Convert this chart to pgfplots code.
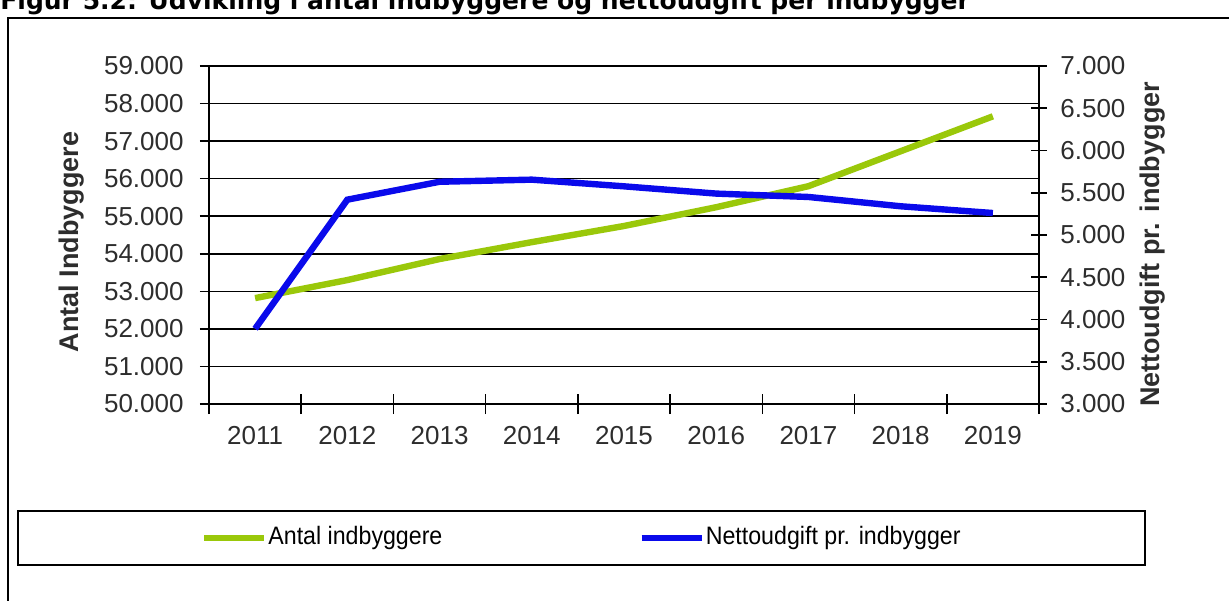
\documentclass[border=0pt]{standalone}
\usepackage{fontspec}
\setmainfont{Liberation Sans}
\newfontfamily\titlefont{DejaVu Sans}
\newfontfamily\legfont{Liberation Sans}[FakeStretch=0.92]
\usepackage{pgfplots}
\usepackage{pgfplotstable}
\pgfplotsset{compat=1.18}
\definecolor{ggreen}{RGB}{154,200,10}
\definecolor{bblue}{RGB}{10,10,235}
\definecolor{ticktxt}{RGB}{45,45,45}

\pgfplotstableread{
x year pop
1 2011 52820
2 2012 53300
3 2013 53860
4 2014 54310
5 2015 54740
6 2016 55240
7 2017 55800
8 2018 56730
9 2019 57660
}\poptable
\pgfplotstableread{
x year net
1 2011 3890
2 2012 5418
3 2013 5630
4 2014 5655
5 2015 5576
6 2016 5490
7 2017 5450
8 2018 5340
9 2019 5260
}\nettable

\begin{document}
\begin{tikzpicture}
% title (cut off at top, as in the source)
\node[anchor=base west, inner sep=0pt, font=\titlefont\bfseries\fontsize{12.5bp}{14bp}\selectfont] at (0bp,295.5bp)
  {Figur 5.2: Udvikling i antal indbyggere og nettoudgift per indbygger};
% outer frame
\draw[line width=1bp] (4bp,-20bp) -- (4bp,291.5bp) -- (660bp,291.5bp);

\begin{axis}[
  at={(104.5bp,98.5bp)}, anchor=south west,
  scale only axis, width=415bp, height=169bp,
  xmin=0.5, xmax=9.5, ymin=50000, ymax=59000,
  scaled y ticks=false,
  axis line style={black, line width=0.8bp},
  xtick={1,...,9},
  xticklabels={2011,2012,2013,2014,2015,2016,2017,2018,2019},
  major x tick style={draw=none},
  minor xtick={0.5,1.5,...,9.5},
  minor x tick style={black, line width=0.8bp},
  minor tick length=10bp,
  xtick align=center,
  xtick pos=bottom,
  ytick={50000,51000,...,59000},
  yticklabels={50.000,51.000,52.000,53.000,54.000,55.000,56.000,57.000,58.000,59.000},
  ytick pos=left,
  ytick align=outside,
  major tick length=4.5bp,
  major y tick style={black, line width=0.8bp},
  ymajorgrids=true,
  major grid style={black, line width=0.8bp},
  ticklabel style={font=\fontsize{13bp}{15bp}\selectfont, text=ticktxt},
  yticklabel style={anchor=east, inner sep=0pt, xshift=-8bp},
  xticklabel style={anchor=north, inner sep=0pt, yshift=-8.5bp},
  every axis y label/.style={at={(axis description cs:0,0.5)}, xshift=-68.5bp, yshift=-3.5bp, rotate=90, anchor=center,
     font=\fontsize{13.5bp}{16bp}\selectfont\bfseries, text=ticktxt},
  ylabel={Antal Indbyggere},
  legend columns=2,
  legend image code/.code={\draw[#1] (0bp,0bp) -- (30bp,0bp);},
  legend style={at={(axis description cs:-0.2313,-0.313)}, anchor=north west,
     draw=black, line width=1bp, inner xsep=91.5bp, inner ysep=7.7bp,
     font=\legfont\fontsize{12.6bp}{14bp}\selectfont,
     nodes={inner xsep=0.5bp, inner ysep=0pt, text height=9bp, text depth=2.6bp},
     /tikz/every even column/.append style={column sep=97.5bp}},
]
\addplot[ggreen, line width=3.2bp] table[x=x, y=pop] {\poptable};
\addlegendentry{Antal indbyggere}
\addlegendimage{bblue, line width=3.2bp}
\addlegendentry{Nettoudgift pr. indbygger}
\end{axis}

\begin{axis}[
  at={(104.5bp,98.5bp)}, anchor=south west,
  scale only axis, width=415bp, height=169bp,
  xmin=0.5, xmax=9.5, ymin=3000, ymax=7000,
  scaled y ticks=false,
  axis line style={black, line width=0.8bp},
  xtick=\empty,
  ytick={3000,3500,...,7000},
  yticklabels={3.000,3.500,4.000,4.500,5.000,5.500,6.000,6.500,7.000},
  ytick pos=right,
  ytick align=center,
  major tick length=8bp,
  major y tick style={black, line width=0.8bp},
  ticklabel style={font=\fontsize{13bp}{15bp}\selectfont, text=ticktxt},
  yticklabel style={anchor=west, inner sep=0pt, xshift=6.5bp},
  every axis y label/.style={at={(axis description cs:1,0.5)}, xshift=57bp, yshift=-4.75bp, rotate=90, anchor=center,
     font=\fontsize{13.5bp}{16bp}\selectfont\bfseries, text=ticktxt},
  ylabel={Nettoudgift pr. indbygger},
]
\addplot[bblue, line width=3.2bp] table[x=x, y=net] {\nettable};
\end{axis}

\pgfresetboundingbox
\path[use as bounding box] (0bp,0bp) rectangle (614.5bp,300.5bp);
\end{tikzpicture}
\end{document}
